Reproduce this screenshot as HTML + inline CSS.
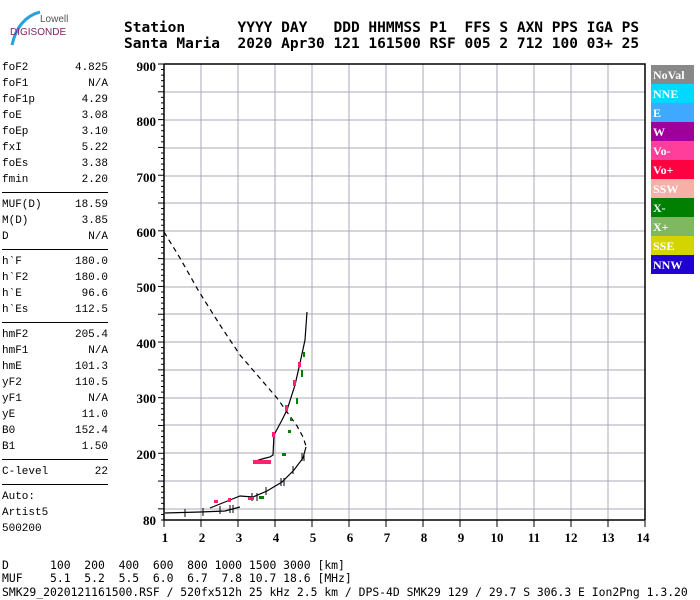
<!DOCTYPE html>
<html><head><meta charset="utf-8"><style>
body{margin:0;width:700px;height:600px;background:#fff;overflow:hidden;position:relative;font-family:"Liberation Mono",monospace}
.t{position:absolute;white-space:pre;margin:0}
.hd{font-weight:bold;font-size:14.5px;left:124px}
.lp{position:absolute;font-size:11px;left:2px;width:106px;white-space:normal}
.lp div{height:16px;line-height:16px;display:flex;justify-content:space-between}
.lp div.sep{height:0;line-height:0;border-top:1.5px solid #000;margin:4px 0 4px 0}
.bt{font-size:11.4px;left:2px}
</style></head><body>
<svg width="700" height="600" style="position:absolute;left:0;top:0">
<path d="M40 12 Q18 18 12 45" stroke="#2aa0e0" stroke-width="3" fill="none"/>
<text x="40" y="22" font-family="Liberation Sans,sans-serif" font-size="10" fill="#555">Lowell</text>
<text x="10" y="35" font-family="Liberation Sans,sans-serif" font-size="10" fill="#8a2060">DIGISONDE</text>
<g stroke="#a8a8b8" stroke-width="1">
<line x1="201" y1="64" x2="201" y2="520"/><line x1="238" y1="64" x2="238" y2="520"/><line x1="275" y1="64" x2="275" y2="520"/><line x1="312" y1="64" x2="312" y2="520"/><line x1="349" y1="64" x2="349" y2="520"/><line x1="386" y1="64" x2="386" y2="520"/><line x1="423" y1="64" x2="423" y2="520"/><line x1="460" y1="64" x2="460" y2="520"/><line x1="497" y1="64" x2="497" y2="520"/><line x1="534" y1="64" x2="534" y2="520"/><line x1="571" y1="64" x2="571" y2="520"/><line x1="608" y1="64" x2="608" y2="520"/>
<line x1="164" y1="509" x2="645" y2="509"/><line x1="164" y1="481" x2="645" y2="481"/><line x1="164" y1="453" x2="645" y2="453"/><line x1="164" y1="425" x2="645" y2="425"/><line x1="164" y1="398" x2="645" y2="398"/><line x1="164" y1="370" x2="645" y2="370"/><line x1="164" y1="342" x2="645" y2="342"/><line x1="164" y1="314" x2="645" y2="314"/><line x1="164" y1="287" x2="645" y2="287"/><line x1="164" y1="259" x2="645" y2="259"/><line x1="164" y1="231" x2="645" y2="231"/><line x1="164" y1="203" x2="645" y2="203"/><line x1="164" y1="176" x2="645" y2="176"/><line x1="164" y1="148" x2="645" y2="148"/><line x1="164" y1="120" x2="645" y2="120"/><line x1="164" y1="92" x2="645" y2="92"/>
</g>
<path d="M164 64 H645 V520 M164 64 V520 H645" stroke="#000" stroke-width="1.5" fill="none"/>
<g id="ticks" stroke="#000" stroke-width="1"></g>
<g font-family="Liberation Serif,serif" font-weight="bold" font-size="13" text-anchor="end">
<text x="156" y="71">900</text><text x="156" y="126">800</text><text x="156" y="182">700</text><text x="156" y="237">600</text><text x="156" y="292">500</text><text x="156" y="348">400</text><text x="156" y="403">300</text><text x="156" y="459">200</text><text x="156" y="525">80</text>
</g>
<g font-family="Liberation Serif,serif" font-weight="bold" font-size="13" text-anchor="middle">
<text x="165" y="542">1</text><text x="202" y="542">2</text><text x="239" y="542">3</text><text x="276" y="542">4</text><text x="313" y="542">5</text><text x="350" y="542">6</text><text x="387" y="542">7</text><text x="424" y="542">8</text><text x="461" y="542">9</text><text x="497" y="542">10</text><text x="534" y="542">11</text><text x="571" y="542">12</text><text x="608" y="542">13</text><text x="643" y="542">14</text>
</g>
<path d="M164 232 L180 258 L198 290 L220 325 L240 355 L277 398 L297 426 L303 437 L306 446" stroke="#000" stroke-width="1.2" fill="none" stroke-dasharray="5,4"/>
<path d="M165 513 L200 512 L225 511 L240 507" stroke="#000" stroke-width="1.2" fill="none"/>
<path d="M210 508 L230 500 L240 496 L253 497 L267 491 L282 482 L294 470 L303 458 L306 447" stroke="#000" stroke-width="1.2" fill="none"/>
<path d="M253 462 L262 459 L270 457 L273 455 L274 435 L282 420 L287 410 L295 385 L300 363 L305 340 L307 312" stroke="#000" stroke-width="1.2" fill="none"/>
<g stroke="#000" stroke-width="1">
<line x1="185" y1="509" x2="185" y2="517"/><line x1="203" y1="508" x2="203" y2="516"/><line x1="220" y1="506" x2="220" y2="514"/><line x1="230" y1="505" x2="230" y2="513"/><line x1="233" y1="505" x2="233" y2="513"/>
<line x1="252" y1="493" x2="252" y2="501"/><line x1="257" y1="493" x2="257" y2="501"/><line x1="266" y1="487" x2="266" y2="495"/><line x1="281" y1="478" x2="281" y2="486"/><line x1="284" y1="478" x2="284" y2="486"/><line x1="293" y1="466" x2="293" y2="474"/><line x1="302" y1="453" x2="302" y2="461"/><line x1="304" y1="453" x2="304" y2="461"/>
</g>
<g fill="#ff2070">
<rect x="253" y="460" width="18" height="4"/><rect x="272" y="432" width="3" height="5"/><rect x="285" y="405" width="3" height="6"/><rect x="293" y="380" width="3" height="6"/><rect x="298" y="362" width="3" height="5"/><rect x="228" y="498" width="3" height="4"/><rect x="248" y="497" width="6" height="3"/><rect x="214" y="500" width="4" height="3"/>
</g>
<g fill="#008000">
<rect x="282" y="453" width="4" height="3"/><rect x="288" y="430" width="3" height="3"/><rect x="290" y="418" width="2" height="3"/><rect x="296" y="398" width="2" height="6"/><rect x="301" y="370" width="2" height="7"/><rect x="303" y="352" width="2" height="5"/><rect x="259" y="496" width="5" height="3"/>
</g>
<g font-family="Liberation Serif,serif" font-weight="bold" font-size="12" fill="#fff">
<rect x="651" y="65" width="43" height="19" fill="#888"/><text x="653" y="79">NoVal</text>
<rect x="651" y="84" width="43" height="19" fill="#00d8ff"/><text x="653" y="98">NNE</text>
<rect x="651" y="103" width="43" height="19" fill="#3fa9ff"/><text x="653" y="117">E</text>
<rect x="651" y="122" width="43" height="19" fill="#a0009a"/><text x="653" y="136">W</text>
<rect x="651" y="141" width="43" height="19" fill="#ff3d9a"/><text x="653" y="155">Vo-</text>
<rect x="651" y="160" width="43" height="19" fill="#ff0040"/><text x="653" y="174">Vo+</text>
<rect x="651" y="179" width="43" height="19" fill="#f7b0a8"/><text x="653" y="193">SSW</text>
<rect x="651" y="198" width="43" height="19" fill="#007f00"/><text x="653" y="212">X-</text>
<rect x="651" y="217" width="43" height="19" fill="#7fb860"/><text x="653" y="231">X+</text>
<rect x="651" y="236" width="43" height="19" fill="#d4d400"/><text x="653" y="250">SSE</text>
<rect x="651" y="255" width="43" height="19" fill="#2000d0"/><text x="653" y="269">NNW</text>
</g>
</svg>
<pre class="t hd" style="top:20px">Station      YYYY DAY   DDD HHMMSS P1  FFS S AXN PPS IGA PS</pre>
<pre class="t hd" style="top:36px">Santa Maria  2020 Apr30 121 161500 RSF 005 2 712 100 03+ 25</pre>
<div class="lp" style="top:60px"><div><span>foF2</span><span>4.825</span></div><div><span>foF1</span><span>N/A</span></div><div><span>foF1p</span><span>4.29</span></div><div><span>foE</span><span>3.08</span></div><div><span>foEp</span><span>3.10</span></div><div><span>fxI</span><span>5.22</span></div><div><span>foEs</span><span>3.38</span></div><div><span>fmin</span><span>2.20</span></div><div class="sep"></div><div><span>MUF(D)</span><span>18.59</span></div><div><span>M(D)</span><span>3.85</span></div><div><span>D</span><span>N/A</span></div><div class="sep"></div><div><span>h`F</span><span>180.0</span></div><div><span>h`F2</span><span>180.0</span></div><div><span>h`E</span><span>96.6</span></div><div><span>h`Es</span><span>112.5</span></div><div class="sep"></div><div><span>hmF2</span><span>205.4</span></div><div><span>hmF1</span><span>N/A</span></div><div><span>hmE</span><span>101.3</span></div><div><span>yF2</span><span>110.5</span></div><div><span>yF1</span><span>N/A</span></div><div><span>yE</span><span>11.0</span></div><div><span>B0</span><span>152.4</span></div><div><span>B1</span><span>1.50</span></div><div class="sep"></div><div><span>C-level</span><span>22</span></div><div class="sep"></div><div><span>Auto:</span></div><div><span>Artist5</span></div><div><span>500200</span></div></div>
<pre class="t bt" style="top:558px">D      100  200  400  600  800 1000 1500 3000 [km]</pre>
<pre class="t bt" style="top:571px">MUF    5.1  5.2  5.5  6.0  6.7  7.8 10.7 18.6 [MHz]</pre>
<pre class="t bt" style="top:585px">SMK29_2020121161500.RSF / 520fx512h 25 kHz 2.5 km / DPS-4D SMK29 129 / 29.7 S 306.3 E Ion2Png 1.3.20</pre>
<script>
var g=document.getElementById('ticks'),s='';
for(var h=80;h<=900;h+=10){var y=520-(h-80)*0.5561;var l=(h%50==0)?6:3;s+='<line x1="'+(164-l)+'" y1="'+y+'" x2="164" y2="'+y+'"/>';}
for(var f=1;f<=14;f++){var x=164+(f-1)*37;s+='<line x1="'+x+'" y1="520" x2="'+x+'" y2="527"/>';}
g.innerHTML=s;
</script>
</body></html>
